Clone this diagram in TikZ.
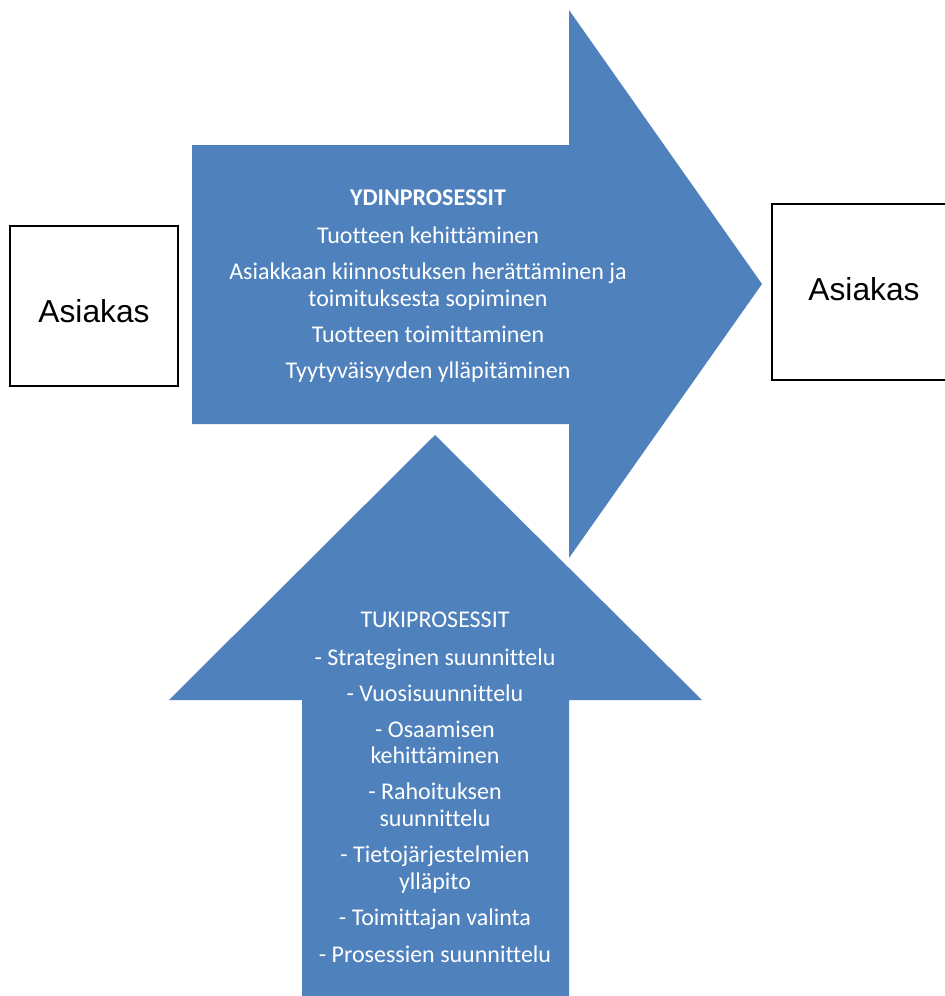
\documentclass[tikz,border=0pt]{standalone}
\usepackage{fontspec}
\setmainfont[Ligatures=NoCommon]{Carlito}
\newfontfamily\boxfont{Liberation Sans}
\usepackage{xcolor}
\usetikzlibrary{positioning}
\definecolor{procBlue}{HTML}{4F81BD}

\begin{document}
\begin{tikzpicture}[
  x=0.75pt, y=-0.75pt,
  every node/.style={inner sep=0pt},
  arrowfill/.style={fill=procBlue, draw=none},
  custbox/.style={rectangle, draw=black, line width=0.8pt, fill=white},
  custtext/.style={font=\boxfont\fontsize{23.8}{28}\selectfont},
  proctext/.style={text=white, align=center, font=\fontsize{18}{20}\selectfont}
]
  \useasboundingbox (0,0) rectangle (945,996);
  % core process arrow (left to right)
  \draw[arrowfill] (192,145) -- (569,145) -- (569,10) -- (762,284)
    -- (569,558) -- (569,424) -- (192,424) -- cycle;
  % support process arrow (bottom to top)
  \draw[arrowfill] (302,1000) -- (302,700) -- (169,700) -- (435,435)
    -- (702,700) -- (569,700) -- (569,1000) -- cycle;
  % customer boxes
  \draw[custbox] (10,226) rectangle (178,386);
  \draw[custbox] (772,204) rectangle (960,380);
  \node[custtext] (custin) at (94,311) {Asiakas};
  \node[custtext] (custout) at (864,289) {Asiakas};
  % texts
  \node[proctext] (core) at (428,286) {\textbf{YDINPROSESSIT}\\[8.5pt]
    Tuotteen kehittäminen\\[7pt]
    Asiakkaan kiinnostuksen herättäminen ja\\
    toimituksesta sopiminen\\[7pt]
    Tuotteen toimittaminen\\[7pt]
    Tyytyväisyyden ylläpitäminen};
  \node[proctext] (support) at (435,787) {TUKIPROSESSIT\\[8.5pt]
    - Strateginen suunnittelu\\[7pt]
    - Vuosisuunnittelu\\[7pt]
    - Osaamisen\\ kehittäminen\\[7pt]
    - Rahoituksen\\ suunnittelu\\[7pt]
    - Tietojärjestelmien\\ ylläpito\\[7.5pt]
    - Toimittajan valinta\\[7.5pt]
    - Prosessien suunnittelu};
\end{tikzpicture}
\end{document}
